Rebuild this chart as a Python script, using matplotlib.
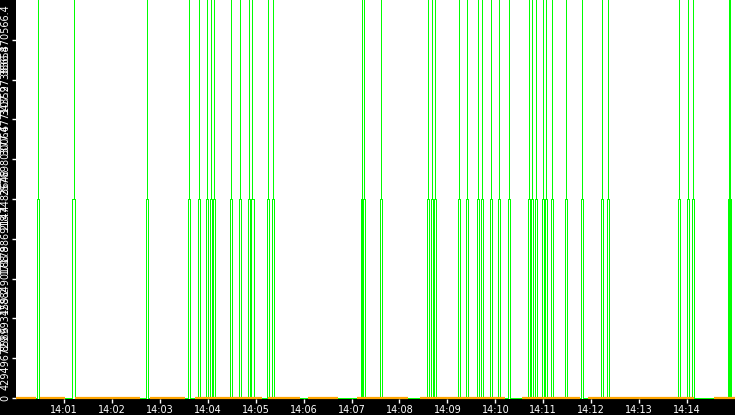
import matplotlib
matplotlib.use('Agg')
import matplotlib.pyplot as plt
import matplotlib.dates as mdates
from matplotlib.ticker import FixedLocator, FuncFormatter
import numpy as np
from datetime import datetime, timedelta

start = datetime(2024, 1, 1, 14, 0, 0)

# seconds after 14:00:00 where the green series jumps to its peak
spike_secs = [28, 72, 164, 216, 229, 239, 244, 248, 269, 280, 292, 296, 316, 322,
              433, 435, 457, 516, 521, 525, 555, 565, 578, 583, 595, 605, 617,
              642, 646, 651, 660, 663, 671, 688, 708, 733, 741, 830, 841, 848,
              893, 894]
spike_top = 4294967295.0
spike_mid = 2147483648.0

# spans (seconds) where the orange series has data, value ~0
orange_spans = [(0, 25), (30, 61), (74, 155), (168, 212), (224, 308), (315, 355),
                (365, 403), (427, 491), (506, 612), (633, 706), (716, 849), (874, 900)]
orange_value = 0.0

yticks = [i * 429496729.6 for i in range(11)]
xticks_min = list(range(1, 15))

# build green pulse line
gx = [0.0]
gy = [0.0]
half = 1.3
for t in spike_secs:
    gx += [t - half, t - half, t, t, t, t + half, t + half]
    gy += [0.0, spike_mid, spike_mid, spike_top, spike_mid, spike_mid, 0.0]
gx.append(900.0)
gy.append(0.0)
gx = [start + timedelta(seconds=s) for s in gx]

ox = []
oy = []
for a, b in orange_spans:
    ox += [a, b, b]
    oy += [orange_value, orange_value, np.nan]
ox = [start + timedelta(seconds=s) for s in ox]

fig = plt.figure(figsize=(7.35, 4.15), dpi=100, facecolor='black')
ax = fig.add_axes([16/735, 16/415, 719/735, 399/415])
ax.set_facecolor('white')

ax.plot(gx, gy, color='#00ff00', lw=0.72, antialiased=False, clip_on=False)
ax.plot(ox, oy, color='#ffa500', lw=1.6, solid_capstyle='butt', clip_on=False)

ax.set_xlim(start, start + timedelta(minutes=15))
ax.set_ylim(-1.2e7, spike_top)

ax.xaxis.set_major_locator(FixedLocator([mdates.date2num(start + timedelta(minutes=m)) for m in xticks_min]))
ax.xaxis.set_major_formatter(mdates.DateFormatter('%H:%M'))
ax.yaxis.set_major_locator(FixedLocator(yticks))
ax.yaxis.set_major_formatter(FuncFormatter(lambda v, p: ('%d' % round(v)) if abs(v - round(v)) < 0.01 else ('%.1f' % v)))

for s in ax.spines.values():
    s.set_visible(False)

ax.tick_params(axis='x', colors='white', labelsize=7, length=3, width=1, pad=1)
ax.tick_params(axis='y', colors='white', labelsize=7, length=3, width=1, pad=1)
for lab in ax.get_yticklabels():
    lab.set_rotation(90)
    lab.set_va('center')

fig.savefig('out.png', dpi=100, facecolor='black')
